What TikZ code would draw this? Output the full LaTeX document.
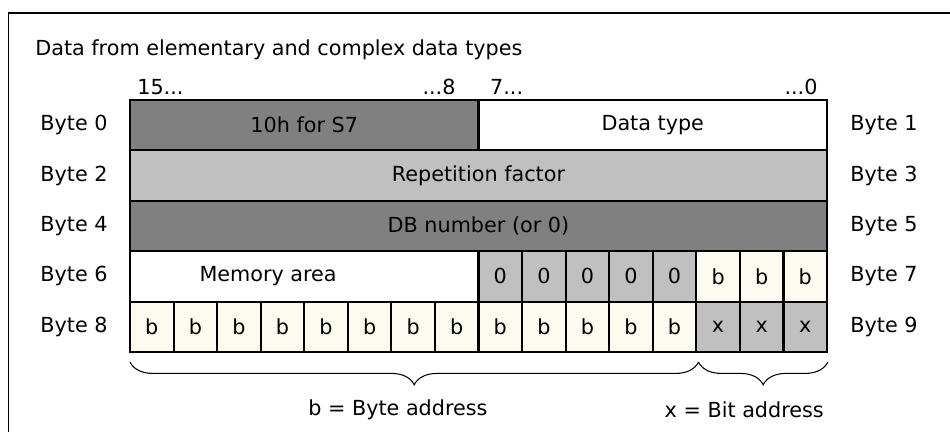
\documentclass[tikz,border=0pt]{standalone}
\usepackage{fontspec}
\setmainfont{DejaVu Sans}
\usetikzlibrary{decorations.pathreplacing}

\definecolor{darkfield}{RGB}{128,128,128}
\definecolor{lightfield}{RGB}{192,192,192}
\definecolor{bitfield}{RGB}{253,251,240}

\tikzset{
  field/.style={draw, line width=1.2pt, anchor=north west, outer sep=0pt, minimum height=28.68pt},
  bitcell/.style={field, minimum width=24.79pt},
  halfword/.style={field, minimum width=198.3pt},
  fullword/.style={field, minimum width=396.6pt},
  addrbrace/.style={decorate, decoration={brace, mirror, amplitude=12.9pt}, line width=0.6pt},
}

\begin{document}
\begin{tikzpicture}[x=24.79pt, y=-28.68pt, inner sep=0pt, font=\fontsize{11.8}{13}\selectfont]
   \useasboundingbox (-2.984,-1.984) rectangle (18.823,6.587);
   % Rahmen (rechts und unten abgeschnitten)
   \draw[line width=0.6pt] (18.9,-1.726) -- (-2.778,-1.726) -- (-2.778,6.7);

   % Ueberschrift und Bitnummern
   \node[anchor=west] (title) at (-2.181,-0.992) {Data from elementary and complex data types};
   \node[anchor=west] (bit15) at (0.161,-0.26) {15...};
   \node[anchor=east] (bit8) at (7.48,-0.26) {...8};
   \node[anchor=west] (bit7) at (8.26,-0.26) {7...};
   \node[anchor=east] (bit0) at (15.79,-0.26) {...0};

   % Byte 0 bis 5
   \node[halfword, fill=darkfield] (s7) at (0,0) {10h for S7};
   \node[halfword, fill=white] (dtype) at (8,0) {Data type};
   \node[fullword, fill=lightfield] (rep) at (0,1) {Repetition factor};
   \node[fullword, fill=darkfield] (dbnr) at (0,2) {DB number (or 0)};

   % Byte 6/7
   \node[halfword, fill=white] (area) at (0,3) {};
   \node (areatext) at (3.17,3.5) {Memory area};
   \foreach \i in {8,...,12}
      \node[bitcell, fill=lightfield] (z\i) at (\i,3) {0};
   \foreach \i in {13,14,15}
      \node[bitcell, fill=bitfield] (bb\i) at (\i,3) {b};

   % Byte 8/9
   \foreach \i in {0,...,12}
      \node[bitcell, fill=bitfield] (b\i) at (\i,4) {b};
   \foreach \i in {13,14,15}
      \node[bitcell, fill=lightfield] (x\i) at (\i,4) {x};

   % Bytebezeichnungen links und rechts
   \foreach \r/\l/\rr in {0/0/1,1/2/3,2/4/5,3/6/7,4/8/9} {
      \node[anchor=east] (byte\l) at (-0.505,\r+0.5) {Byte \l};
      \node[anchor=west] (byte\rr) at (16.53,\r+0.5) {Byte \rr};
   }

   % Klammern
   \coordinate (bstart) at (0,5.2);
   \coordinate (bsplit) at (13.05,5.2);
   \coordinate (bstop) at (16.02,5.2);
   \draw[addrbrace] (bstart) -- (bsplit);
   \draw[addrbrace] (bsplit) -- (bstop);
   \node (byteaddr) at (6.15,6.15) {b = Byte address};
   \node (bitaddr) at (14.1,6.15) {x = Bit address};
\end{tikzpicture}
\end{document}
